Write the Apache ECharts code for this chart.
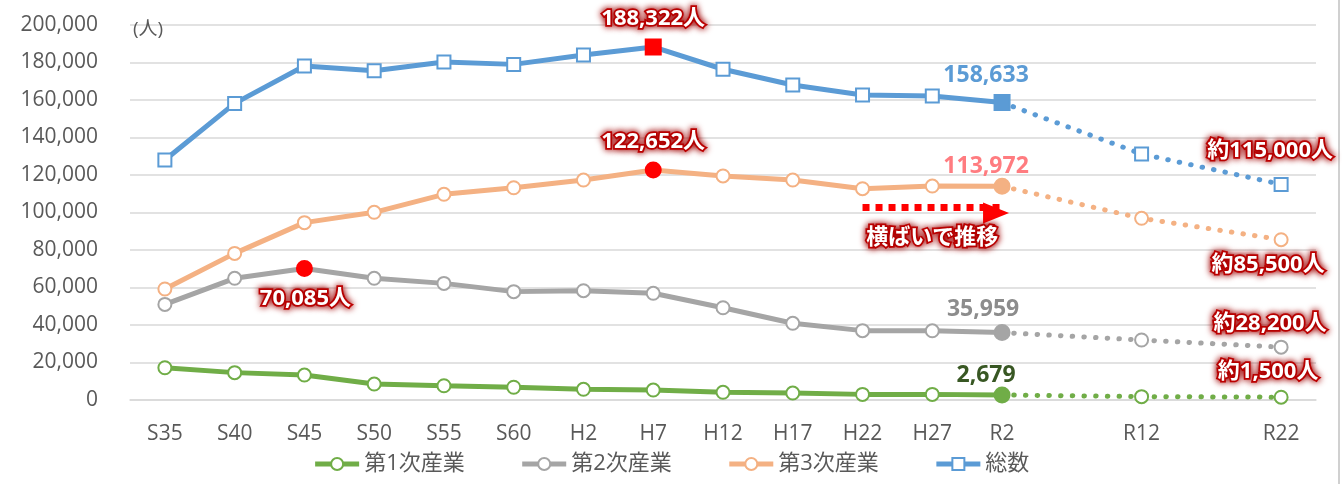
<!DOCTYPE html>
<html>
<head>
<meta charset="utf-8">
<script src="https://cdn.jsdelivr.net/npm/echarts@6/dist/echarts.min.js"></script>
<style>
  html, body { margin: 0; padding: 0; background: #fff; }
  #main { width: 1342px; height: 484px; }
</style>
</head>
<body>
<div id="main"></div>
<script>
// 年次（R7・R17 は間隔合わせ用で表示しない）
const categories = ['S35', 'S40', 'S45', 'S50', 'S55', 'S60', 'H2', 'H7', 'H12', 'H17', 'H22', 'H27', 'R2', 'R7', 'R12', 'R17', 'R22'];
const hiddenLabels = ['R7', 'R17'];
const seriesNames = ['第1次産業', '第2次産業', '第3次産業', '総数'];

// 実績 S35〜R2
const primary = [17200, 14600, 13300, 8500, 7600, 6800, 5700, 5300, 4100, 3700, 3000, 3000, 2679];
const secondary = [51000, 64900, 70085, 64900, 62200, 57800, 58300, 56900, 49200, 40900, 37000, 36900, 35959];
const tertiary = [59200, 78200, 94600, 100100, 109700, 113200, 117300, 122652, 119500, 117300, 112700, 114100, 113972];
const total = [128000, 158200, 178100, 175600, 180300, 179000, 184000, 188322, 176400, 168000, 162700, 162100, 158633];

// 推計 R12, R22
const primaryFc = [1800, 1500];
const secondaryFc = [32000, 28200];
const tertiaryFc = [96900, 85500];
const totalFc = [131200, 115000];

const FONT = "'Open Sans', 'Noto Sans CJK JP', sans-serif";
const colors = { p: '#70AD47', s: '#A5A5A5', t: '#F4B183', all: '#5B9BD5' };

const redText = {
  show: true,
  color: '#fff',
  fontWeight: 'bold',
  fontSize: 22,
  fontFamily: FONT,
  textBorderColor: '#C00000',
  textBorderWidth: 3.5,
  textShadowColor: '#A00000',
  textShadowBlur: 7
};

function valueText(color) {
  return { show: true, color: color, fontWeight: 'bold', fontSize: 23, fontFamily: FONT };
}

// 実績データ → 系列データ（特記点はラベル付き）
function actualData(values, color, special, lastLabel) {
  const out = values.map((v, i) => {
    if (special && special.idx === i) {
      return {
        value: v,
        symbolSize: 15,
        itemStyle: { color: '#FF0000', borderColor: '#FF0000' },
        label: Object.assign({}, redText, special.label)
      };
    }
    if (i === values.length - 1) {
      return {
        value: v,
        symbolSize: 15,
        itemStyle: { color: color, borderColor: color },
        label: lastLabel
      };
    }
    return v;
  });
  while (out.length < categories.length) out.push(null);
  return out;
}

// 推計データ（R2 から点線）
function forecastData(values, fc, lastLabel) {
  const out = [];
  for (let i = 0; i < values.length - 1; i++) out.push(null);
  out.push({ value: values[values.length - 1], symbol: 'none' });
  out.push(null);
  out.push(fc[0]);
  out.push(null);
  out.push({ value: fc[1], label: Object.assign({}, redText, lastLabel) });
  return out;
}

function solidSeries(name, values, color, shape, special, lastLabel, z) {
  return {
    name: name,
    type: 'line',
    z: z,
    symbol: shape,
    symbolSize: 13,
    lineStyle: { color: color, width: 5 },
    itemStyle: { color: '#fff', borderColor: color, borderWidth: 2 },
    label: { show: false },
    emphasis: { disabled: true },
    data: actualData(values, color, special, lastLabel)
  };
}

function dottedSeries(name, values, fc, color, shape, lastLabel, z) {
  return {
    name: name + '（推計）',
    type: 'line',
    z: z,
    connectNulls: true,
    symbol: shape,
    symbolSize: 13,
    lineStyle: { color: color, width: 5, type: [0.5, 11.2], cap: 'round' },
    itemStyle: { color: '#fff', borderColor: color, borderWidth: 2 },
    label: { show: false },
    emphasis: { disabled: true },
    data: forecastData(values, fc, lastLabel)
  };
}

const chart = echarts.init(document.getElementById('main'), null, { renderer: 'canvas' });

const option = {
  animation: false,
  backgroundColor: '#fff',
  textStyle: { fontFamily: FONT },
  grid: { left: 130, right: 26, top: 25, bottom: 84, outerBoundsMode: 'none' },
  legend: {
    data: seriesNames,
    bottom: 4,
    left: 'center',
    itemWidth: 44,
    itemHeight: 15,
    itemGap: 55,
    lineStyle: { width: 5 },
    textStyle: { fontSize: 22, color: '#595959', fontFamily: FONT }
  },
  xAxis: {
    type: 'category',
    data: categories,
    boundaryGap: true,
    axisTick: { show: false },
    axisLine: { lineStyle: { color: '#d9d9d9', width: 1.5 } },
    axisLabel: {
      interval: 0,
      margin: 24,
      fontSize: 21,
      color: '#595959',
      fontFamily: FONT,
      formatter: v => (hiddenLabels.includes(v) ? '' : v)
    }
  },
  yAxis: {
    type: 'value',
    min: 0,
    max: 200000,
    interval: 20000,
    name: '(人)',
    nameLocation: 'end',
    nameGap: -5,
    nameTextStyle: { color: '#595959', fontSize: 19, fontFamily: FONT, align: 'left', verticalAlign: 'middle', padding: [0, 0, 0, 3] },
    axisLine: { show: false },
    axisTick: { show: false },
    axisLabel: {
      margin: 32,
      fontSize: 21,
      color: '#595959',
      fontFamily: FONT,
      formatter: v => v.toLocaleString('en-US')
    },
    splitLine: { lineStyle: { color: '#d9d9d9', width: 1.5 } }
  },
  series: [
    dottedSeries(seriesNames[0], primary, primaryFc, colors.p, 'circle',
      { formatter: '約1,500人', position: 'top', distance: 7, offset: [-13, 0] }, 1),
    dottedSeries(seriesNames[1], secondary, secondaryFc, colors.s, 'circle',
      { formatter: '約28,200人', position: 'top', distance: 5, offset: [-11, 0] }, 1),
    dottedSeries(seriesNames[2], tertiary, tertiaryFc, colors.t, 'circle',
      { formatter: '約85,500人', position: 'bottom', distance: 7, offset: [-13, 0] }, 1),
    dottedSeries(seriesNames[3], total, totalFc, colors.all, 'rect',
      { formatter: '約115,000人', position: 'top', distance: 15, offset: [-11, 0] }, 1),

    solidSeries(seriesNames[0], primary, colors.p, 'circle', null,
      Object.assign(valueText('#385723'), { formatter: '2,679', position: 'top', distance: 0, offset: [-16, 0] }), 3),
    solidSeries(seriesNames[1], secondary, colors.s, 'circle',
      { idx: 2, label: { formatter: '70,085人', position: 'bottom', distance: 11, offset: [1, 0] } },
      Object.assign(valueText('#8C8C8C'), { formatter: '35,959', position: 'top', distance: 3, offset: [-19, 0] }), 4),
    Object.assign(
      solidSeries(seriesNames[2], tertiary, colors.t, 'circle',
        { idx: 7, label: { formatter: '122,652人', position: 'top', distance: 9 } },
        Object.assign(valueText('#FF7C80'), { formatter: '113,972', position: 'top', distance: 0, offset: [-16, 0] }), 5),
      {
        markLine: {
          silent: true,
          symbol: ['none', 'triangle'],
          symbolSize: [21, 26],
          symbolOffset: [0, 6],
          lineStyle: { color: '#FF0000', width: 7, type: [7, 6] },
          itemStyle: { color: '#FF0000' },
          label: Object.assign({}, redText, {
            formatter: '横ばいで推移',
            position: 'insideMiddleBottom',
            distance: 20,
            fontSize: 22
          }),
          data: [[{ coord: ['H22', 103000] }, { coord: ['R2', 103000] }]]
        }
      }
    ),
    solidSeries(seriesNames[3], total, colors.all, 'rect',
      { idx: 7, label: { formatter: '188,322人', position: 'top', distance: 9 } },
      Object.assign(valueText('#5B9BD5'), { formatter: '158,633', position: 'top', distance: 7, offset: [-16, 0] }), 6)
  ],
  graphic: [
    {
      type: 'rect',
      right: 2,
      top: 0,
      shape: { width: 2, height: 484 },
      style: { fill: '#d0d0d0' },
      silent: true
    }
  ]
};

chart.setOption(option);
</script>
</body>
</html>
